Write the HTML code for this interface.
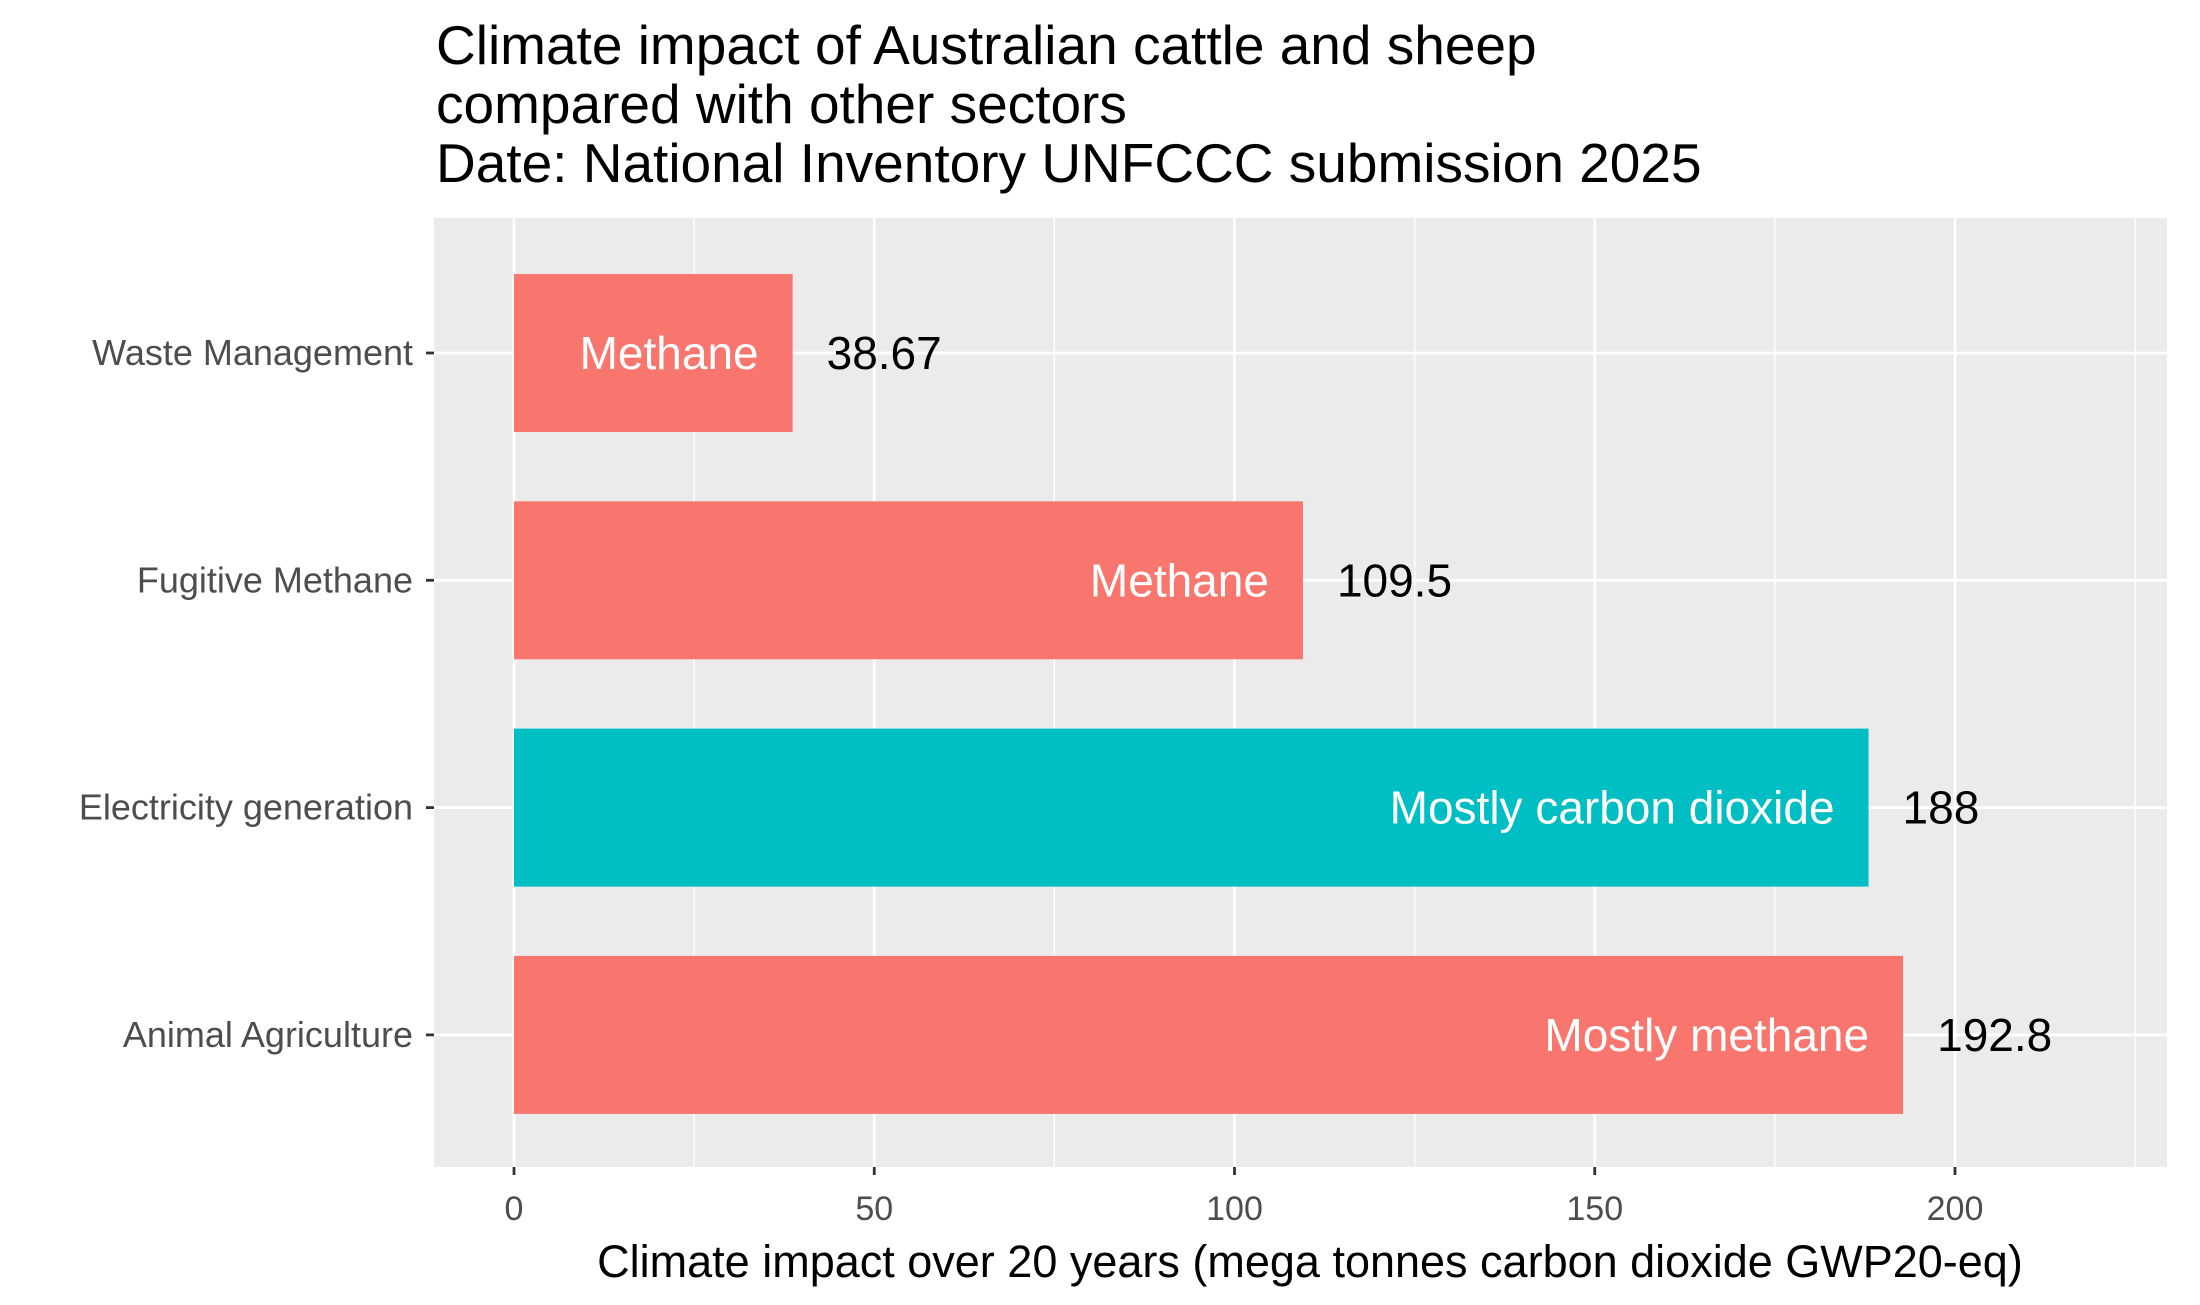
<!DOCTYPE html>
<html><head><meta charset="utf-8"><style>
body{margin:0;background:#fff;}
svg text{font-family:"Liberation Sans",Arial,sans-serif;}
</style></head><body>
<svg id="chart" width="2200" height="1300" xmlns="http://www.w3.org/2000/svg">
<text x="436" y="64" font-size="55" fill="#000">Climate impact of Australian cattle and sheep</text>
<text x="436" y="123" font-size="55" fill="#000">compared with other sectors</text>
<text x="436" y="182" font-size="55" fill="#000">Date: National Inventory UNFCCC submission 2025</text>
<rect x="434" y="218" width="1733" height="949" fill="#EBEBEB"/>
<g id="grid"></g><g id="bars"></g><g id="axes"></g>
<text x="1310" y="1277" font-size="45" text-anchor="middle" fill="#000">Climate impact over 20 years (mega tonnes carbon dioxide GWP20-eq)</text>
</svg>
<script>
const categories = ["Waste Management","Fugitive Methane","Electricity generation","Animal Agriculture"];
const values = [38.67, 109.5, 188, 192.8];
const valueLabels = ["38.67","109.5","188","192.8"];
const gasLabels = ["Methane","Methane","Mostly carbon dioxide","Mostly methane"];
const gasType = ["methane","methane","co2","methane"];
const xTicks = [0,50,100,150,200];
const xMinor = [25,75,125,175,225];

const NS="http://www.w3.org/2000/svg";
const x0=514, x1=1955;
const xs=v=>x0+(x1-x0)*v/200;
const yc=i=>353+i*227.3;
const bh=158;
function mk(tag,attrs,parent){const e=document.createElementNS(NS,tag);for(const k in attrs)e.setAttribute(k,attrs[k]);parent.appendChild(e);return e;}
const grid=document.getElementById('grid'),bars=document.getElementById('bars'),axes=document.getElementById('axes');
xMinor.forEach(v=>{const l=mk('line',{x1:xs(v),x2:xs(v),y1:218,y2:1167,stroke:'#fff','stroke-width':1.4},grid);

});
xTicks.forEach(v=>{const l=mk('line',{x1:xs(v),x2:xs(v),y1:218,y2:1167,stroke:'#fff','stroke-width':2.8},grid);


const t=mk('line',{x1:xs(v),x2:xs(v),y1:1167,y2:1175,stroke:'#333','stroke-width':2.8},axes);


const tx=mk('text',{x:xs(v),y:1220,'font-size':34,'text-anchor':'middle',fill:'#4D4D4D'},axes);tx.textContent=v;

});
categories.forEach((c,i)=>{const y=yc(i);
const g=mk('line',{x1:434,x2:2167,y1:y,y2:y,stroke:'#fff','stroke-width':2.8},grid);


const t=mk('line',{x1:426,x2:434,y1:y,y2:y,stroke:'#333','stroke-width':2.8},axes);


const lab=mk('text',{x:413,y:y+12,'font-size':36,'text-anchor':'end',fill:'#4D4D4D'},axes);lab.textContent=c;


const r=mk('rect',{x:xs(0),y:y-bh/2,width:xs(values[i])-xs(0),height:bh,fill:gasType[i]==='co2'?'#00BFC4':'#F8766D'},bars);


const il=mk('text',{x:xs(values[i])-34,y:y+16,'font-size':46,'text-anchor':'end',fill:'#fff'},bars);il.textContent=gasLabels[i];


const vl=mk('text',{x:xs(values[i])+34,y:y+16,'font-size':46,fill:'#000'},bars);vl.textContent=valueLabels[i];

});
</script>
</body></html>
